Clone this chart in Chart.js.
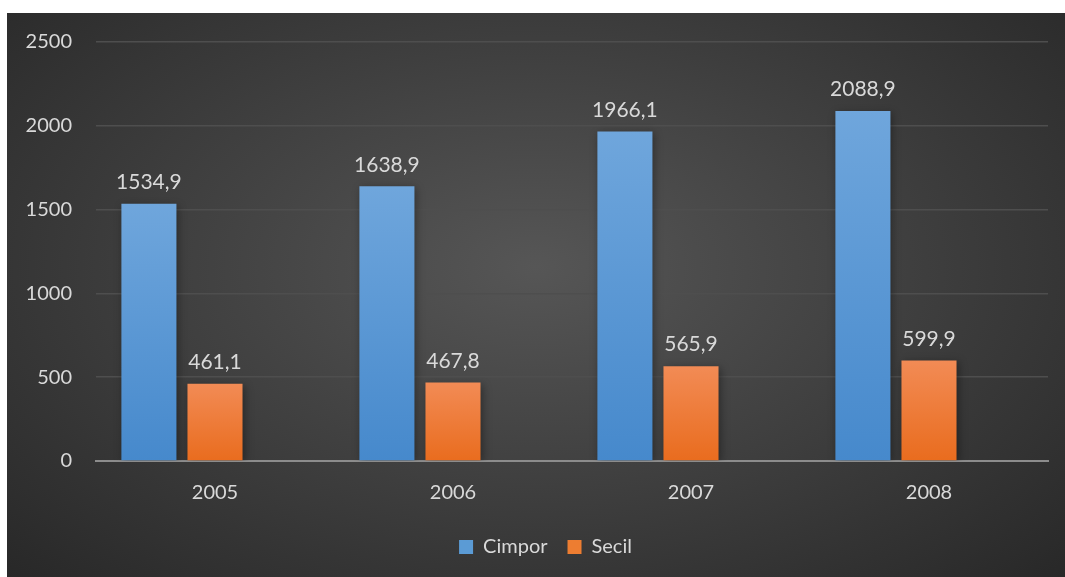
<!DOCTYPE html>
<html>
<head>
<meta charset="utf-8">
<script src="https://cdn.jsdelivr.net/npm/chart.js@4.4.0/dist/chart.umd.min.js"></script>
<style>
  html, body { margin: 0; padding: 0; background: #ffffff; }
  #wrap {
    position: absolute;
    left: 7px;
    top: 13px;
    width: 1058px;
    height: 564px;
    background: radial-gradient(ellipse at 50% 45%, #565656 0%, #3f3f3f 50%, #282828 100%);
  }
</style>
</head>
<body>
<div id="wrap"><canvas id="chart"></canvas></div>
<script>
// Data
const years = ["2005", "2006", "2007", "2008"];
const cimpor = [1534.9, 1638.9, 1966.1, 2088.9];
const secil = [461.1, 467.8, 565.9, 599.9];
// the source chart keeps an empty third series, which leaves a gap right of each pair
const emptySeries = [null, null, null, null];
const yTicks = [0, 500, 1000, 1500, 2000, 2500];

const textColor = "#d9d9d9";
const fontFamily = "Lato, 'Open Sans', sans-serif";

// Per-bar vertical gradient (light top, darker bottom)
function barGradient(top, bottom) {
  return (ctx) => {
    const chart = ctx.chart;
    const y = chart.scales.y;
    if (!y || ctx.raw === undefined || ctx.raw === null) return bottom;
    const yTop = y.getPixelForValue(ctx.raw);
    const yBase = y.getPixelForValue(0);
    const g = chart.ctx.createLinearGradient(0, yTop, 0, yBase);
    g.addColorStop(0, top);
    g.addColorStop(1, bottom);
    return g;
  };
}

// Value labels above bars, written with a comma
const valueLabels = {
  id: "valueLabels",
  afterDatasetsDraw(chart) {
    const ctx = chart.ctx;
    ctx.save();
    ctx.fillStyle = textColor;
    ctx.font = "21px " + fontFamily;
    ctx.textAlign = "center";
    ctx.textBaseline = "bottom";
    chart.data.datasets.forEach((ds, i) => {
      chart.getDatasetMeta(i).data.forEach((bar, j) => {
        if (ds.data[j] === null) return;
        const txt = ds.data[j].toFixed(1).replace(".", ",");
        ctx.fillText(txt, bar.x, bar.y - 11);
      });
    });
    ctx.restore();
  },
};

// Soft shadow under bars
const barShadow = {
  id: "barShadow",
  beforeDatasetsDraw(chart) {
    chart.ctx.save();
    chart.ctx.shadowColor = "rgba(0,0,0,0.35)";
    chart.ctx.shadowBlur = 8;
    chart.ctx.shadowOffsetX = 2;
    chart.ctx.shadowOffsetY = 2;
  },
  afterDatasetsDraw(chart) {
    chart.ctx.restore();
  },
};

// Legend sits a little right of the canvas centre
const shiftLegend = {
  id: "shiftLegend",
  afterLayout(chart) {
    chart.legend.left += 18;
    chart.legend.right += 18;
  },
};

new Chart(document.getElementById("chart"), {
  type: "bar",
  data: {
    labels: years,
    datasets: [
      {
        label: "Cimpor",
        data: cimpor,
        backgroundColor: barGradient("#6fa6dc", "#4689cc"),
        categoryPercentage: 0.833,
        barPercentage: 0.833,
      },
      {
        label: "Secil",
        data: secil,
        backgroundColor: barGradient("#f28b55", "#e96c1e"),
        categoryPercentage: 0.833,
        barPercentage: 0.833,
      },
      {
        label: "",
        data: emptySeries,
        backgroundColor: "rgba(0,0,0,0)",
        categoryPercentage: 0.833,
        barPercentage: 0.833,
      },
    ],
  },
  options: {
    responsive: true,
    maintainAspectRatio: false,
    animation: false,
    layout: { padding: { left: 0, right: 17, top: 8, bottom: 10 } },
    plugins: {
      legend: {
        position: "bottom",
        labels: {
          color: textColor,
          font: { size: 20, family: fontFamily },
          boxWidth: 14,
          boxHeight: 14,
          padding: 20,
          generateLabels(chart) {
            const cols = ["#5b9bd5", "#ed7d31"];
            return chart.data.datasets
              .filter((ds) => ds.label)
              .map((ds, i) => ({
                text: ds.label,
                fillStyle: cols[i],
                strokeStyle: cols[i],
                lineWidth: 0,
                fontColor: textColor,
                datasetIndex: i,
              }));
          },
        },
      },
      tooltip: { enabled: false },
    },
    scales: {
      x: {
        grid: { display: false },
        border: { color: "#8c8c8c", width: 2 },
        ticks: { color: textColor, font: { size: 20, family: fontFamily }, padding: 12 },
      },
      y: {
        min: 0,
        max: 2500,
        afterBuildTicks(axis) {
          axis.ticks = yTicks.map((v) => ({ value: v }));
        },
        afterFit(axis) {
          axis.width = 89;
        },
        grid: {
          color: "#4e4e4e",
          lineWidth: 1.5,
          drawTicks: true,
          tickLength: 7,
          tickColor: "rgba(0,0,0,0)",
        },
        border: { display: false },
        ticks: {
          color: textColor,
          font: { size: 20, family: fontFamily },
          padding: 17,
          callback: (v) => String(v),
        },
      },
    },
  },
  plugins: [barShadow, valueLabels, shiftLegend],
});
</script>
</body>
</html>
